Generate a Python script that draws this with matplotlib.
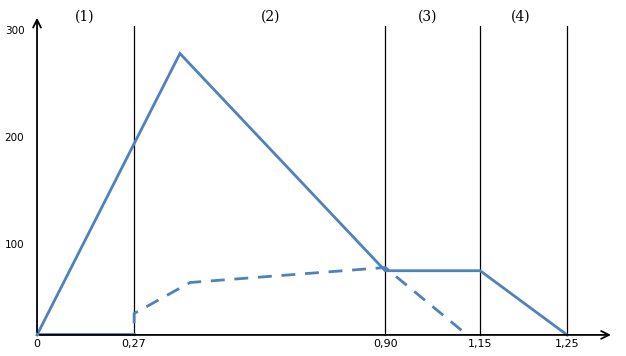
import matplotlib.pyplot as plt

# schematic x positions (the reference axis is not to scale) and their labels
tick_pos = [0, 0.229, 0.821, 1.045, 1.25]
tick_labels = ['0', '0,27', '0,90', '1,15', '1,25']
y_ticks = [100, 200, 300]

# solid curve
solid_x = [0, 0.337, 0.821, 1.045, 1.25]
solid_y = [16, 279, 76, 76, 16]
# solid bottom segment
base_x = [0, 0.229]
base_y = [17, 17]
# dashed curve
dash_x = [0.229, 0.229, 0.361, 0.821, 1.002]
dash_y = [27, 36, 65, 79, 20]

zones = ['(1)', '(2)', '(3)', '(4)']
zone_x = [0.113, 0.550, 0.922, 1.141]

blue = '#4f81bd'

fig = plt.figure(figsize=(6.26, 3.56), dpi=100)
ax = fig.add_axes([0, 0, 1, 1])
ax.set_xlim(-0.0873, 1.389)
ax.set_ylim(-3.7, 329)
ax.axis('off')

# axes with arrows
ax.annotate('', xy=(1.36, 16), xytext=(0, 16),
            arrowprops=dict(arrowstyle='->', color='black', lw=1.3, mutation_scale=14))
ax.annotate('', xy=(0, 315), xytext=(0, 16),
            arrowprops=dict(arrowstyle='->', color='black', lw=1.3, mutation_scale=14))

# vertical separators
for x in tick_pos[1:]:
    ax.plot([x, x], [16, 305], color='black', lw=0.9)

ax.plot(solid_x, solid_y, color=blue, lw=2.0, solid_joinstyle='miter')
ax.plot(base_x, base_y, color=blue, lw=2.0)
ax.plot(dash_x, dash_y, color=blue, lw=2.0, linestyle=(0, (5, 3.5)))

for x, lab in zip(tick_pos, tick_labels):
    ax.text(x, 12, lab, ha='center', va='top', fontsize=8, family='DejaVu Sans')
for y in y_ticks:
    ax.text(-0.03, y, str(y), ha='right', va='center', fontsize=7.5, family='DejaVu Sans')

for x, lab in zip(zone_x, zones):
    ax.text(x, 313, lab, ha='center', va='center', fontsize=10, family='DejaVu Serif')

fig.savefig('out.png', dpi=100)
